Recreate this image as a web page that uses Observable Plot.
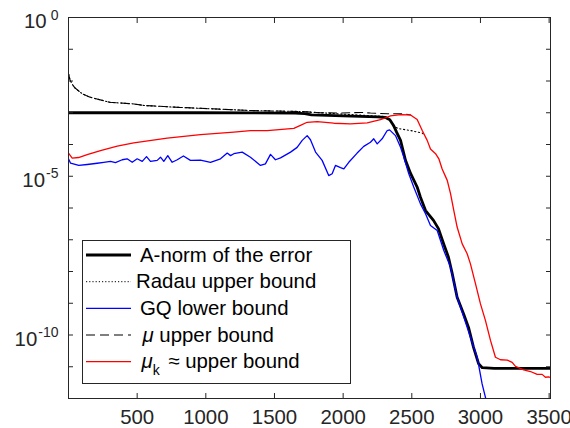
<!DOCTYPE html>
<html><head><meta charset="utf-8">
<script src="https://cdn.jsdelivr.net/npm/d3@7"></script>
<script src="https://cdn.jsdelivr.net/npm/@observablehq/plot@0.6"></script>
<style>
body{margin:0;background:#fff;}
#chart{position:relative;width:570px;height:428px;}
</style></head><body><div id="chart"></div>
<script>
// ---- data (x = iteration, values given as log10 of the quantity) ----
const errX   = [0,961,1650,1720,1770,2000,2250,2308,2340,2367,2390,2418,2454,2491,2539,2563,2600,2658,2694,2731,2767,2794,2830,2876,2913,2949,2986,3013,3100,3510];
const errExp = [-3.00,-3.00,-3.01,-3.03,-3.07,-3.10,-3.13,-3.15,-3.22,-3.40,-3.62,-3.87,-4.50,-4.91,-5.34,-5.66,-6.08,-6.39,-6.65,-7.12,-7.55,-8.06,-8.81,-9.32,-9.76,-10.38,-10.90,-11.03,-11.05,-11.05];

const radauX   = [1,10,25,45,70,100,150,200,300,470,550,800,961,1325,1689,1835,1981,2308,2340,2367,2403,2491,2576,2592];
const radauExp = [-1.78,-1.95,-2.09,-2.21,-2.30,-2.40,-2.50,-2.56,-2.67,-2.72,-2.77,-2.83,-2.86,-2.93,-2.96,-3.00,-3.04,-3.12,-3.22,-3.43,-3.50,-3.56,-3.64,-3.70];

const gqX   = [0,15,75,136,209,257,306,342,391,427,464,500,537,568,597,646,670,694,723,755,792,837,888,961,1034,1107,1156,1180,1204,1265,1325,1398,1434,1471,1507,1544,1617,1665,1702,1738,1762,1799,1847,1895,1920,1944,1981,2005,2041,2102,2150,2199,2223,2248,2284,2321,2338,2381,2418,2442,2478,2514,2563,2600,2636,2685,2733,2782,2830,2879,2927,2976,3012,3051];
const gqExp = [-4.45,-4.59,-4.66,-4.63,-4.59,-4.56,-4.53,-4.57,-4.48,-4.45,-4.56,-4.45,-4.53,-4.38,-4.53,-4.50,-4.40,-4.53,-4.35,-4.56,-4.48,-4.36,-4.50,-4.49,-4.56,-4.45,-4.27,-4.35,-4.29,-4.24,-4.40,-4.66,-4.61,-4.31,-4.48,-4.42,-4.24,-4.09,-3.87,-3.72,-3.85,-4.24,-4.50,-4.98,-4.92,-4.66,-4.73,-4.77,-4.56,-4.27,-4.06,-3.93,-3.82,-3.98,-3.82,-3.56,-3.54,-3.72,-4.09,-4.40,-4.92,-5.34,-5.87,-6.18,-6.55,-6.71,-7.34,-7.86,-8.81,-9.44,-10.07,-10.70,-11.54,-12.22];

const muX   = [1,10,25,45,70,100,150,200,300,470,550,800,961,1325,1689,1835,1981,2126,2199,2323,2418,2461,2491];
const muExp = [-1.78,-1.95,-2.09,-2.21,-2.30,-2.40,-2.50,-2.56,-2.67,-2.72,-2.77,-2.83,-2.86,-2.93,-2.96,-3.00,-3.01,-2.99,-3.01,-3.03,-3.03,-3.05,-3.07];

const muKX   = [0,27,73,136,233,355,475,719,961,1204,1325,1447,1641,1689,1738,1811,1932,2053,2175,2272,2345,2418,2491,2539,2576,2612,2636,2673,2697,2721,2758,2782,2806,2830,2867,2903,2927,2964,3000,3036,3073,3109,3146,3195,3231,3255,3315,3364,3413,3449,3473,3497,3510];
const muKExp = [-4.27,-4.43,-4.41,-4.32,-4.19,-4.05,-3.95,-3.80,-3.69,-3.61,-3.56,-3.56,-3.49,-3.40,-3.30,-3.28,-3.33,-3.35,-3.32,-3.22,-3.10,-3.06,-3.07,-3.21,-3.56,-3.87,-4.14,-4.29,-4.45,-4.77,-5.13,-5.55,-6.08,-6.60,-7.13,-7.44,-7.76,-8.39,-9.02,-9.54,-10.17,-10.70,-10.78,-10.79,-10.86,-10.99,-11.10,-11.15,-11.24,-11.24,-11.33,-11.32,-11.34];

const xTicks = [500,1000,1500,2000,2500,3000,3500];
const yTickExps = [-12,-11,-10,-9,-8,-7,-6,-5,-4,-3,-2,-1,0];
const yLabelExps = [0,-5,-10];
const legendLabels = ["A-norm of the error","Radau upper bound","GQ lower bound","μ upper bound","μk ≈ upper bound"];

// ---- build tables ----
const rows = (xs, es) => xs.map((x, i) => ({x, y: Math.pow(10, es[i])}));
const errRows = rows(errX, errExp), radauRows = rows(radauX, radauExp),
      gqRows = rows(gqX, gqExp), muRows = rows(muX, muExp), muKRows = rows(muKX, muKExp);
const yTicks = yTickExps.map(e => Math.pow(10, e));
const yLabelTicks = yLabelExps.map(e => Math.pow(10, e));

const FONT = "'Liberation Sans', Arial, Helvetica, sans-serif";
const AX = "#262626";
const noText = () => "";

const plot = Plot.plot({
  width: 570, height: 428,
  marginLeft: 68, marginRight: 20, marginTop: 17, marginBottom: 30,
  style: {fontFamily: FONT, fontSize: "20.4px", color: AX, background: "#fff", overflow: "visible"},
  x: {domain: [0, 3510]},
  y: {type: "log", domain: [1e-12, 1]},
  marks: [
    Plot.line(errRows,   {x: "x", y: "y", stroke: "#000", strokeWidth: 2.8, clip: true}),
    Plot.line(radauRows, {x: "x", y: "y", stroke: "#000", strokeWidth: 1.1, strokeDasharray: "1.2,2.6", clip: true}),
    Plot.line(gqRows,    {x: "x", y: "y", stroke: "#0000ff", strokeWidth: 1.3, clip: true}),
    Plot.line(muRows,    {x: "x", y: "y", stroke: "#000", strokeWidth: 1.1, strokeDasharray: "8,5", clip: true}),
    Plot.line(muKRows,   {x: "x", y: "y", stroke: "#ff0000", strokeWidth: 1.3, clip: true}),
    Plot.frame({stroke: AX, strokeWidth: 1}),
    Plot.axisX(xTicks, {anchor: "bottom", tickSize: -5, tickFormat: noText, label: null}),
    Plot.axisX(xTicks, {anchor: "top", tickSize: -5, tickFormat: noText, label: null}),
    Plot.axisX(xTicks, {anchor: "bottom", tickSize: 0, tickPadding: 11.5, tickFormat: d => String(d), label: null}),
    Plot.axisY(yTicks, {anchor: "left", tickSize: -5, tickFormat: noText, label: null}),
    Plot.axisY(yTicks, {anchor: "right", tickSize: -5, tickFormat: noText, label: null}),
    Plot.axisY(yLabelTicks, {anchor: "left", tickSize: 0, tickPadding: 10, dy: 4,
      tickFormat: d => "10^" + Math.round(Math.log10(d)), label: null})
  ]
});

// superscript exponents in y tick labels
d3.select(plot).selectAll("text").each(function() {
  const t = this.textContent;
  if (t.startsWith("10^")) {
    const exp = t.slice(3);
    const s = d3.select(this);
    s.text(null);
    s.append("tspan").text("10");
    s.append("tspan").attr("font-size", 14).attr("dx", exp.startsWith("-") ? 1 : 4).attr("dy", -8.5).text(exp);
  }
});

// legend box
const svg = d3.select(plot);
const lg = svg.append("g").attr("font-family", FONT).attr("font-size", 20.4).attr("fill", "#000")
  .attr("text-anchor", "start");
lg.append("rect").attr("x", 82.5).attr("y", 240.5).attr("width", 268).attr("height", 143)
  .attr("fill", "#fff").attr("stroke", AX).attr("stroke-width", 1);
const rowY = [255, 281.7, 308.3, 335, 361.7];
const textX = [140, 136, 140, 142.5, 141.5];
const styles = [
  {stroke: "#000", w: 2.8, dash: null},
  {stroke: "#000", w: 1, dash: "1.2,2"},
  {stroke: "#0000ff", w: 1.3, dash: null},
  {stroke: "#000", w: 1.1, dash: "9,5"},
  {stroke: "#ff0000", w: 1.3, dash: null}
];
legendLabels.forEach((lab, i) => {
  const y = rowY[i];
  lg.append("line").attr("x1", 86).attr("x2", 131).attr("y1", y).attr("y2", y)
    .attr("stroke", styles[i].stroke).attr("stroke-width", styles[i].w)
    .attr("stroke-dasharray", styles[i].dash);
  const tx = lg.append("text").attr("x", textX[i]).attr("y", y + 6.7).attr("text-anchor", "start");
  if (i === 3) {
    tx.append("tspan").attr("font-style", "italic").text("μ");
    tx.append("tspan").text(" upper bound");
  } else if (i === 4) {
    tx.append("tspan").attr("font-style", "italic").text("μ");
    tx.append("tspan").attr("font-size", 14).attr("dy", 7).attr("dx", 0).text("k");
    tx.append("tspan").attr("dy", -7).attr("dx", 3).text(" ≈ upper bound");
  } else {
    tx.text(lab);
  }
});

document.getElementById("chart").appendChild(plot);
</script>
</body></html>
